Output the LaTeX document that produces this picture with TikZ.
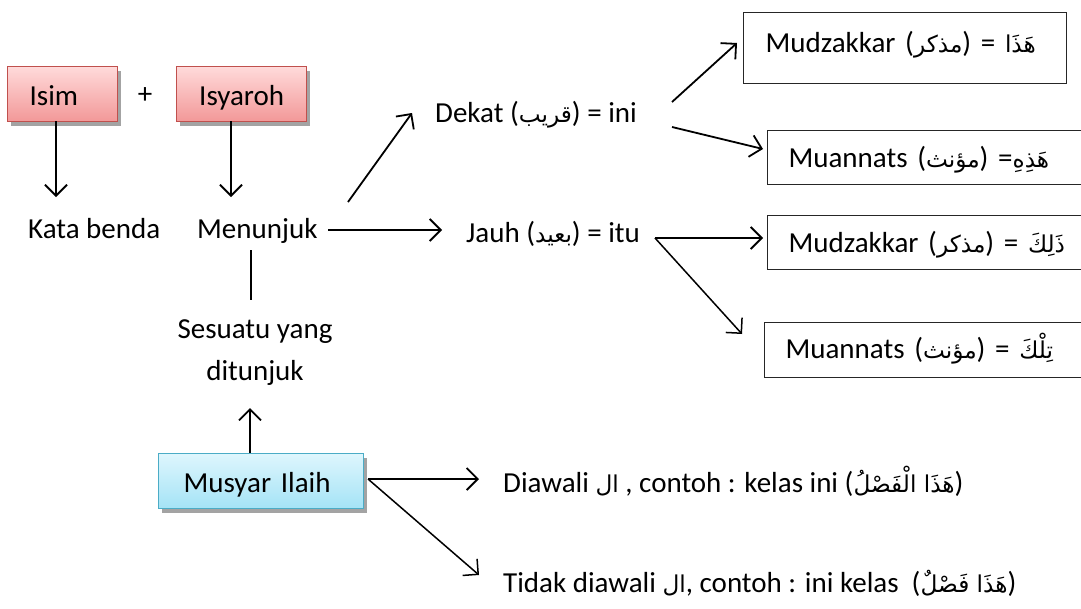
\documentclass[tikz,border=0pt]{standalone}
\usepackage{fontspec}
\setmainfont{Carlito}
\newfontfamily\arabicfont[Script=Arabic,Scale=0.8]{DejaVu Sans}
\TeXXeTstate=1
\usetikzlibrary{arrows.meta,shadows}
\newcommand{\AR}[1]{{\arabicfont\beginR #1\endR}}
\definecolor{pinktop}{RGB}{255,218,218}
\definecolor{pinkbot}{RGB}{242,152,152}
\definecolor{boxred}{RGB}{192,80,77}
\definecolor{bluetop}{RGB}{222,246,253}
\definecolor{bluebot}{RGB}{164,227,246}
\definecolor{boxblue}{RGB}{75,172,198}
\begin{document}
\begin{tikzpicture}[x=1pt,y=-1pt,
  font=\fontsize{29}{35}\selectfont,
  txt/.style={inner sep=0pt, anchor=base west},
  colbox/.style={line width=1.3pt, inner ysep=0pt, anchor=north west,
    text height=39pt, text depth=16pt,
    drop shadow={shadow xshift=3pt, shadow yshift=-4pt, fill=black!45, opacity=0.8}},
  pinkbox/.style={colbox, draw=boxred, top color=pinktop, bottom color=pinkbot},
  bluebox/.style={colbox, draw=boxblue, top color=bluetop, bottom color=bluebot},
  outbox/.style={draw=black!85, line width=1.1pt, fill=white, inner ysep=0pt,
    inner xsep=21pt, anchor=north west, align=left, text width=300pt,
    text height=37pt, text depth=17pt},
  arr/.style={-{Straight Barb[length=11pt,width=22pt]}, line width=1.8pt},
  thin arr/.style={arr, line width=1.5pt}]
\useasboundingbox (0,0) rectangle (1081,608);
\fill[white] (0,0) rectangle (1081,608);

% top boxes
\node[pinkbox, inner xsep=22pt, text width=66pt, align=left] (isim) at (7,66) {Isim};
\node[pinkbox, inner xsep=0pt, text width=130pt, align=center] (isyaroh) at (176,66) {Isyaroh};
\node[inner sep=0pt] (plus) at (145,96) {+};

\node[txt] (kata) at (28,238) {Kata benda};
\node[txt] (menunjuk) at (197,238) {Menunjuk};
\node[inner sep=0pt, align=center, font=\fontsize{29}{42}\selectfont, anchor=base] (sesuatu) at (255,380) {Sesuatu yang\\ditunjuk};

\node[bluebox, inner xsep=25pt, text width=155pt, align=left] (musyar) at (158,453) {Musyar Ilaih};

\node[txt] (dekat) at (435,122) {Dekat (\AR{قريب}) = ini};
\node[txt] (jauh) at (466,242) {Jauh (\AR{بعيد}) = itu};

\node[outbox, inner xsep=22pt, text width=279pt, text height=40pt, text depth=31pt] (mud1) at (743,12) {Mudzakkar (\AR{مذكر}) = \AR{هَذَا}};
\node[outbox] (mua1) at (767,130) {Muannats (\AR{مؤنث}) =\AR{هَذِهِ}};
\node[outbox] (mud2) at (767,215) {Mudzakkar (\AR{مذكر}) = \AR{ذَلِكَ}};
\node[outbox, text height=36pt, text depth=19pt] (mua2) at (764,322) {Muannats (\AR{مؤنث}) = \AR{تِلْكَ}};

\node[txt] (diawali) at (503,492) {Diawali \AR{ال} , contoh : kelas ini (\AR{هَذَا الْفَصْلُ})};
\node[txt] (tidak) at (503,592) {Tidak diawali \AR{ال}, contoh : ini kelas\ \ (\AR{هَذَا فَصْلٌ})};

% connector end points
\coordinate (isimS) at (56,121);   \coordinate (kataN) at (56,197);
\coordinate (isyS) at (231,121);   \coordinate (menN) at (231,197);
\coordinate (menE) at (328,230);   \coordinate (jauhW) at (442,230);
\coordinate (menNE) at (348,202);  \coordinate (dekatW) at (412,113);
\coordinate (menS) at (251,250);   \coordinate (sesN) at (251,300);
\coordinate (musN) at (250,453);   \coordinate (sesS) at (250,408);
\coordinate (dekE1) at (672,102);  \coordinate (mud1W) at (737,43);
\coordinate (dekE2) at (672,127);  \coordinate (mua1W) at (763,149);
\coordinate (jauhE) at (655,238);  \coordinate (mud2W) at (763,238);
\coordinate (mua2W) at (742,334);
\coordinate (musE) at (368,479);   \coordinate (diaW) at (479,479);
\coordinate (tidW) at (479,575);

\draw[arr] (isimS) -- (kataN);
\draw[arr] (isyS) -- (menN);
\draw[arr] (menE) -- (jauhW);
\draw[arr] (menNE) -- (dekatW);
\draw[line width=1.5pt] (menS) -- (sesN);
\draw[arr] (musN) -- (sesS);
\draw[arr] (dekE1) -- (mud1W);
\draw[arr] (dekE2) -- (mua1W);
\draw[arr] (jauhE) -- (mud2W);
\draw[thin arr] (jauhE) -- (mua2W);
\draw[arr] (musE) -- (diaW);
\draw[thin arr] (musE) -- (tidW);
\end{tikzpicture}
\end{document}
